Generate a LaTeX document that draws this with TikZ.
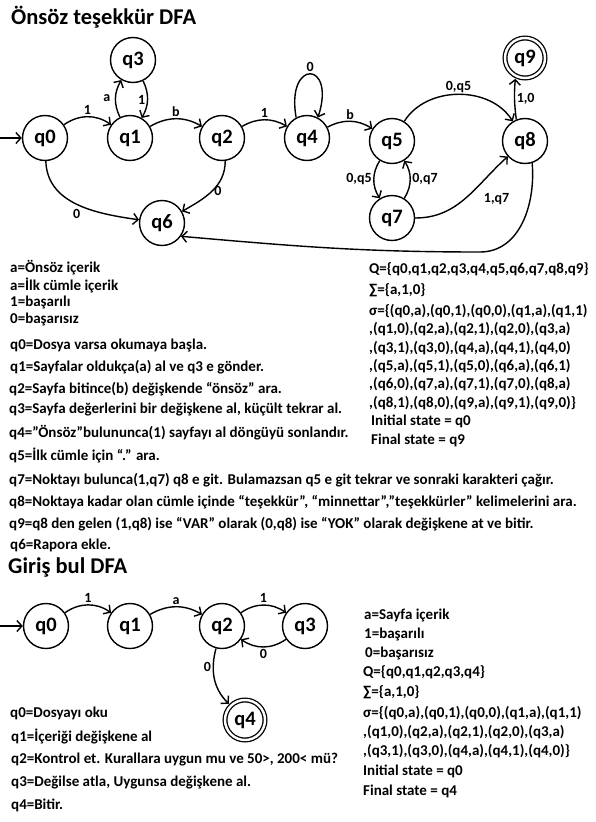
\documentclass[tikz,border=0pt]{standalone}
\usepackage{fontspec}
\setmainfont{Carlito}
\usetikzlibrary{arrows.meta}
\begin{document}
\begin{tikzpicture}[x=1pt,y=1pt,
  st/.style={circle,draw,line width=1.4pt,minimum size=45pt,inner sep=0pt,font=\fontsize{20.5}{20.5}\selectfont\bfseries},
  acc/.style={circle,draw,double,double distance=2.4pt,line width=1.3pt,minimum size=40pt,inner sep=0pt,outer sep=3pt,font=\fontsize{20.5}{20.5}\selectfont\bfseries},
  tr/.style={line width=1.4pt,-{Straight Barb[length=5pt,width=11pt,line width=1.4pt]}},
  lb/.style={font=\fontsize{14}{14}\selectfont\bfseries,inner sep=1.5pt},
  tx/.style={anchor=west,inner sep=0pt,font=\fontsize{15}{15}\selectfont\bfseries},
  ttl/.style={anchor=west,inner sep=0pt,font=\fontsize{22.5}{22.5}\selectfont\bfseries}]
\useasboundingbox (0,0) rectangle (595,-822);
% ---------- top DFA ----------
\node[ttl] (t1) at (11,-17) {Önsöz teşekkür DFA};
\node[st] (q0) at (45,-138) {q0};
\node[st] (q1) at (130,-138) {q1};
\node[st] (q3) at (133,-60) {q3};
\node[st] (q2) at (222,-138) {q2};
\node[st] (q4) at (307,-138) {q4};
\node[st] (q5) at (392,-141) {q5};
\node[st] (q7) at (392,-218) {q7};
\node[st] (q8) at (525,-141) {q8};
\node[acc] (q9) at (525,-58) {q9};
\node[st] (q6) at (162,-223) {q6};
\coordinate (s0) at (0,-138);
\coordinate (kq) at (480,-252);
\draw[tr] (s0) -- (q0);
\draw[tr] (q0) to[bend left=35] node[lb,above]{1} (q1);
\draw[tr] (q1) to[bend left=28] node[lb,left=3pt]{a} (q3);
\draw[tr] (q3) to[bend left=28] node[lb,left]{1} (q1);
\draw[tr] (q1) to[bend left=30] node[lb,above]{b} (q2);
\draw[tr] (q2) to[bend left=30] node[lb,above]{1} (q4);
\draw[tr] (q4.118) .. controls +(100:60) and +(72:60) .. node[lb,above]{0} (q4.62);
\draw[tr] (q4) to[bend left=30] node[lb,above]{b} (q5);
\draw[tr] (q5) to[out=58,in=122] node[lb,above]{0,q5} (q8);
\draw[tr] (q8.112) to[bend left=6] node[lb,right]{1,0} (q9.245);
\draw[tr] (q5) to[bend right=32] node[lb,left]{0,q5} (q7);
\draw[tr] (q7) to[bend right=32] node[lb,right]{0,q7} (q5);
\draw[tr] (q7) to[out=0,in=222] node[lb,pos=0.7,anchor=north west,yshift=-9pt]{1,q7} (q8);
\draw[tr] (q0) to[out=-88,in=172] node[lb,pos=0.55,below left]{0} (q6);
\draw[tr] (q2.-82) to[out=-90,in=30] node[lb,pos=0.5,right]{0} (q6);
\draw[tr] (q8.-72) to[out=-85,in=0] (kq) to[out=180,in=-5] (q6.-35);
% ---------- top texts ----------
\node[tx] (ta1) at (10,-268) {a=Önsöz içerik};
\node[tx] (ta2) at (10,-285) {a=İlk cümle içerik};
\node[tx] (ta3) at (10,-302) {1=başarılı};
\node[tx] (ta4) at (10,-319) {0=başarısız};
\node[tx] (tq0) at (10,-345) {q0=Dosya varsa okumaya başla.};
\node[tx] (tq1) at (10,-367) {q1=Sayfalar oldukça(a) al ve q3 e gönder.};
\node[tx] (tq2) at (9,-389) {q2=Sayfa bitince(b) değişkende “önsöz” ara.};
\node[tx] (tq3) at (9,-410) {q3=Sayfa değerlerini bir değişkene al, küçült tekrar al.};
\node[tx] (tq4) at (9,-433) {q4=”Önsöz”bulununca(1) sayfayı al döngüyü sonlandır.};
\node[tx] (tq5) at (9,-455) {q5=İlk cümle için “.” ara.};
\node[tx] (tq7) at (9,-480) {q7=Noktayı bulunca(1,q7) q8 e git. Bulamazsan q5 e git tekrar ve sonraki karakteri çağır.};
\node[tx] (tq8) at (9,-502) {q8=Noktaya kadar olan cümle içinde “teşekkür”, “minnettar”,”teşekkürler” kelimelerini ara.};
\node[tx] (tq9) at (9,-524) {q9=q8 den gelen (1,q8) ise “VAR” olarak (0,q8) ise “YOK” olarak değişkene at ve bitir.};
\node[tx] (tq6) at (10,-545) {q6=Rapora ekle.};
\node[tx] (rQ) at (369,-269) {Q=\{q0,q1,q2,q3,q4,q5,q6,q7,q8,q9\}};
\node[tx] (rS) at (369,-290) {∑=\{a,1,0\}};
\node[tx] (rs1) at (369,-311) {σ=\{(q0,a),(q0,1),(q0,0),(q1,a),(q1,1)};
\node[tx] (rs2) at (369,-329) {,(q1,0),(q2,a),(q2,1),(q2,0),(q3,a)};
\node[tx] (rs3) at (369,-348) {,(q3,1),(q3,0),(q4,a),(q4,1),(q4,0)};
\node[tx] (rs4) at (369,-366) {,(q5,a),(q5,1),(q5,0),(q6,a),(q6,1)};
\node[tx] (rs5) at (369,-384) {,(q6,0),(q7,a),(q7,1),(q7,0),(q8,a)};
\node[tx] (rs6) at (369,-403) {,(q8,1),(q8,0),(q9,a),(q9,1),(q9,0)\}};
\node[tx] (rI) at (371,-421) {Initial state = q0};
\node[tx] (rF) at (371,-440) {Final state = q9};
% ---------- bottom DFA ----------
\node[ttl] (t2) at (8,-567) {Giriş bul DFA};
\node[st] (p0) at (46,-626) {q0};
\node[st] (p1) at (130,-626) {q1};
\node[st] (p2) at (222,-626) {q2};
\node[st] (p3) at (305,-626) {q3};
\node[acc] (p4) at (245,-720) {q4};
\coordinate (s1) at (0,-626);
\draw[tr] (s1) -- (p0);
\draw[tr] (p0) to[bend left=35] node[lb,above]{1} (p1);
\draw[tr] (p1) to[bend left=30] node[lb,above]{a} (p2);
\draw[tr] (p2) to[bend left=35] node[lb,above]{1} (p3);
\draw[tr] (p3) to[bend left=35] node[lb,below]{0} (p2);
\draw[tr] (p2) to[out=-105,in=135] node[lb,pos=0.3,left]{0} (p4);
% ---------- bottom texts ----------
\node[tx] (bq0) at (10,-713) {q0=Dosyayı oku};
\node[tx] (bq1) at (11,-736) {q1=İçeriği değişkene al};
\node[tx] (bq2) at (11,-759) {q2=Kontrol et. Kurallara uygun mu ve 50>, 200< mü?};
\node[tx] (bq3) at (11,-782) {q3=Değilse atla, Uygunsa değişkene al.};
\node[tx] (bq4) at (11,-805) {q4=Bitir.};
\node[tx] (ba) at (364,-615) {a=Sayfa içerik};
\node[tx] (b1) at (364,-634) {1=başarılı};
\node[tx] (b0) at (365,-653) {0=başarısız};
\node[tx] (bQ) at (363,-672) {Q=\{q0,q1,q2,q3,q4\}};
\node[tx] (bS) at (363,-692) {∑=\{a,1,0\}};
\node[tx] (bs1) at (363,-713) {σ=\{(q0,a),(q0,1),(q0,0),(q1,a),(q1,1)};
\node[tx] (bs2) at (363,-732) {,(q1,0),(q2,a),(q2,1),(q2,0),(q3,a)};
\node[tx] (bs3) at (363,-751) {,(q3,1),(q3,0),(q4,a),(q4,1),(q4,0)\}};
\node[tx] (bI) at (363,-771) {Initial state = q0};
\node[tx] (bF) at (363,-791) {Final state = q4};
\end{tikzpicture}
\end{document}
